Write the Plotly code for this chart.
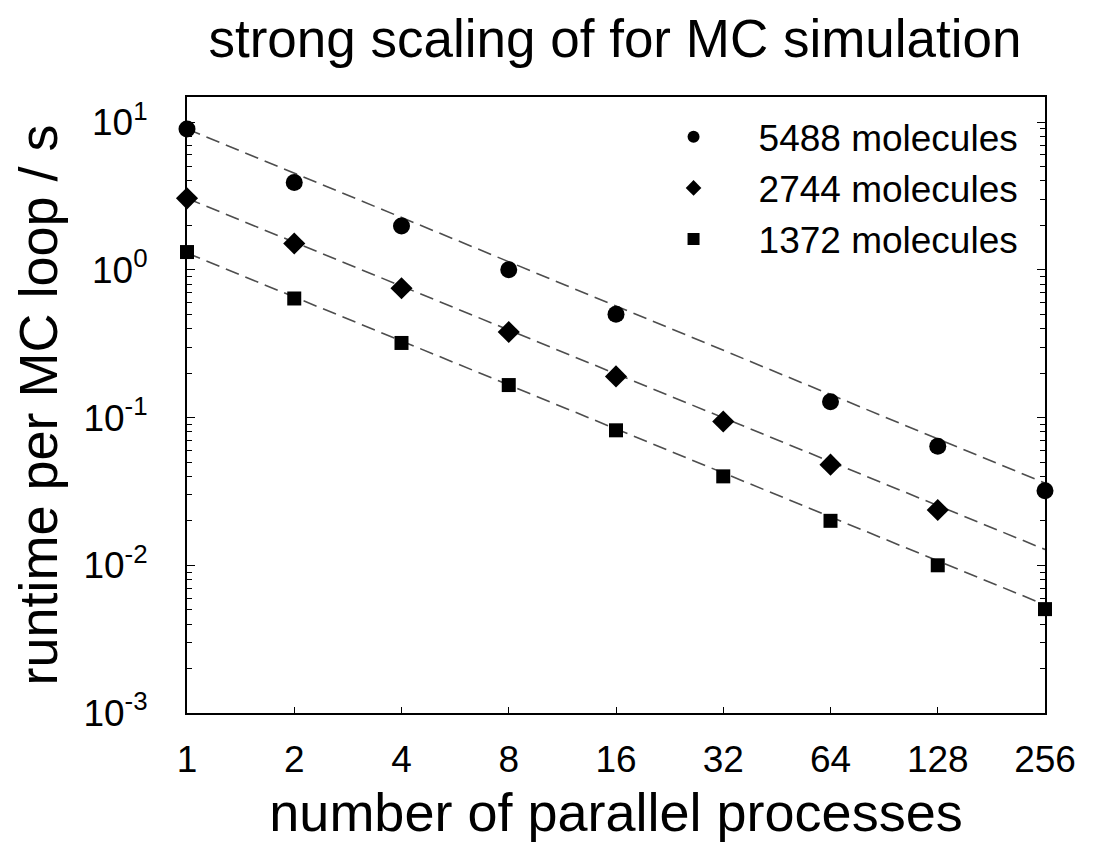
import numpy as np
import plotly.graph_objects as go

# ---- data ----
procs = [1, 2, 4, 8, 16, 32, 64, 128, 256]

series_names = ["5488 molecules", "2744 molecules", "1372 molecules"]
x_5488 = [1, 2, 4, 8, 16, 64, 128, 256]
y_5488 = [9.0, 3.9, 1.98, 1.0, 0.50, 0.128, 0.064, 0.032]
x_2744 = [1, 2, 4, 8, 16, 32, 64, 128]
y_2744 = [3.05, 1.51, 0.75, 0.38, 0.19, 0.094, 0.048, 0.0237]
x_1372 = [1, 2, 4, 8, 16, 32, 64, 128, 256]
y_1372 = [1.32, 0.64, 0.32, 0.166, 0.082, 0.040, 0.020, 0.010, 0.00505]

# dashed ideal-scaling guide lines (value at 1 and at 256 processes)
guide_x = [1, 256]
guide_5488 = [9.0, 0.036]
guide_2744 = [3.05, 0.0128]
guide_1372 = [1.30, 0.0054]

ytick_vals = [1e-3, 1e-2, 1e-1, 1e0, 1e1]
ytick_text = ["10<sup>-3</sup>", "10<sup>-2</sup>", "10<sup>-1</sup>", "10<sup>0</sup>", "10<sup>1</sup>"]
xtick_text = [str(p) for p in procs]

FONT = "Liberation Sans, Arial, Helvetica, sans-serif"

fig = go.Figure()

for gy in [guide_5488, guide_2744, guide_1372]:
    fig.add_trace(go.Scatter(x=guide_x, y=gy, mode="lines", showlegend=False,
                             line=dict(color="#4d4d4d", width=1.6, dash="14px,7px"),
                             hoverinfo="skip", cliponaxis=False))

marker_specs = [
    (x_5488, y_5488, "circle", 17),
    (x_2744, y_2744, "diamond", 17),
    (x_1372, y_1372, "square", 14),
]
for name, (xs, ys, sym, sz) in zip(series_names, marker_specs):
    fig.add_trace(go.Scatter(x=xs, y=ys, mode="markers", name=name, cliponaxis=False,
                             marker=dict(symbol=sym, size=sz, color="black")))

fig.update_layout(
    width=1095, height=845,
    margin=dict(l=179, r=58, t=89, b=140),
    paper_bgcolor="white", plot_bgcolor="white",
    font=dict(family=FONT, color="black"),
    title=dict(text="strong scaling of for MC simulation", x=607 / 1095, xanchor="center",
               y=1 - 30 / 845, yanchor="middle", yref="container",
               font=dict(size=53, family=FONT, color="black")),
    legend=dict(x=0.975, xanchor="right", y=0.985, yanchor="top",
                bgcolor="rgba(0,0,0,0)", font=dict(size=37, family=FONT),
                itemsizing="constant", itemwidth=120, tracegroupgap=0),
    showlegend=True,
)

fig.update_xaxes(
    type="log", range=[0, np.log10(256)],
    tickvals=procs, ticktext=xtick_text,
    ticks="inside", ticklen=6, tickwidth=1, tickcolor="black",
    showline=True, linecolor="black", linewidth=2, mirror=True,
    showgrid=False, zeroline=False,
    tickfont=dict(size=37, family=FONT), ticklabelstandoff=13,
    title=dict(text="number of parallel processes", font=dict(size=54, family=FONT), standoff=14),
)
fig.update_yaxes(
    type="log", range=[-3, np.log10(14.8)],
    tickvals=ytick_vals, ticktext=ytick_text,
    ticks="inside", ticklen=8, tickwidth=1, tickcolor="black",
    minor=dict(ticks="inside", ticklen=5, tickwidth=1, tickcolor="black", showgrid=False,
               dtick="D1"),
    showline=True, linecolor="black", linewidth=2, mirror="ticks",
    showgrid=False, zeroline=False,
    tickfont=dict(size=37, family=FONT), ticklabelstandoff=30,
    title=dict(text="runtime per MC loop / s", font=dict(size=54, family=FONT), standoff=17),
)

fig.write_html("out.html")
